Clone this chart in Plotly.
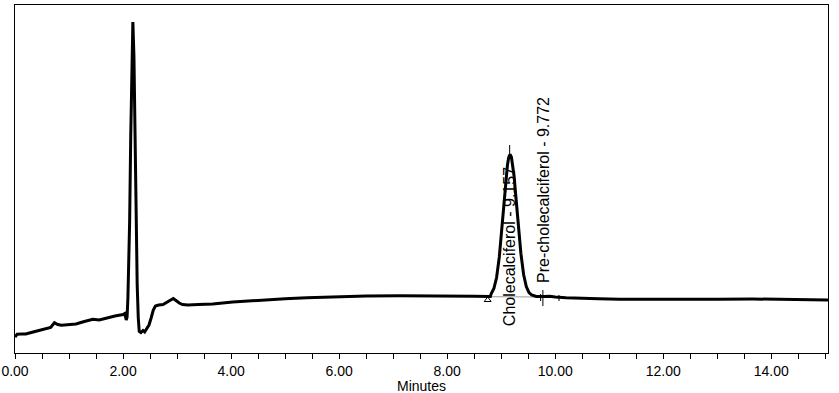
import plotly.graph_objects as go

# Chromatogram trace (time in minutes, detector response in arbitrary units)
time_min = [0.00, 0.04, 0.12, 0.20, 0.30, 0.45, 0.60, 0.66, 0.73, 0.79, 0.86, 1.00,
            1.13, 1.25, 1.38, 1.44, 1.56, 1.70, 1.85, 2.00, 2.03, 2.06, 2.075, 2.09,
            2.102, 2.122, 2.142, 2.162, 2.182, 2.202, 2.222, 2.242, 2.262, 2.282, 2.30,
            2.33, 2.37, 2.40, 2.44, 2.48, 2.52, 2.56, 2.60, 2.66, 2.74, 2.82, 2.88,
            2.93, 2.98, 3.04, 3.10, 3.20, 3.40, 3.66, 4.03, 4.30, 4.65, 5.00, 5.40,
            5.89, 6.50, 7.12, 7.49, 8.00, 8.50, 8.80, 8.815, 8.865, 8.915, 8.965,
            9.015, 9.04, 9.065, 9.09, 9.115, 9.14, 9.165, 9.19, 9.215, 9.24, 9.265,
            9.29, 9.315, 9.34, 9.365, 9.415, 9.465, 9.515, 9.565, 9.65, 9.72, 9.80,
            9.90, 10.00, 10.20, 10.40, 10.80, 11.20, 11.80, 12.40, 13.00, 13.66,
            14.30, 15.06]
response = [16.0, 18.7, 19.0, 19.0, 20.5, 22.5, 24.0, 25.5, 30.3, 28.5, 27.7, 28.0,
            29.0, 31.0, 33.0, 33.7, 33.0, 35.0, 37.0, 38.5, 39.5, 33.0, 36.0, 55.0,
            75.0, 131.0, 215.0, 296.0, 331.0, 296.0, 215.0, 131.0, 68.0, 35.0, 21.5,
            20.5, 22.5, 21.0, 24.0, 28.0, 35.0, 43.0, 47.0, 48.0, 48.5, 51.0, 53.5,
            54.5, 52.5, 50.0, 48.5, 48.0, 48.5, 49.0, 51.0, 52.0, 53.0, 54.2, 55.3,
            56.3, 57.0, 57.3, 57.3, 57.0, 56.8, 56.5, 59.3, 64.5, 75.5, 96.0,
            125.5, 142.5, 159.5, 175.0, 187.5, 195.7, 198.5, 195.7, 187.5, 176.5, 160.5,
            144.5, 128.5, 113.0, 99.5, 78.5, 66.5, 60.5, 58.0, 56.5, 56.3, 56.5,
            56.8, 56.0, 55.2, 54.7, 54.2, 53.7, 53.5, 53.7, 53.8, 54.0,
            53.5, 53.0]

# Integration baseline under the vitamin D peak
baseline_t = [8.75, 9.75]
baseline_y = [56.3, 56.0]

# Peak start marker (triangle)
start_t = [8.75]
start_y = [53.0]

# Vertical event / retention-time marks
mark_t = [9.157, 9.73, 9.772, 10.07]
mark_lo = [198.0, 52.0, 47.0, 52.0]
mark_hi = [208.0, 59.0, 63.0, 58.0]

# Peak labels
peak_names = ["Cholecalciferol - 9.157", "Pre-cholecalciferol - 9.772"]
peak_label_t = [9.157, 9.772]
peak_label_y = [25.0, 68.0]

x_tick_vals = [0, 2, 4, 6, 8, 10, 12, 14]
x_tick_text = ["0.00", "2.00", "4.00", "6.00", "8.00", "10.00", "12.00", "14.00"]
x_title = "Minutes"

AX_FONT = "Liberation Sans Narrow, Liberation Sans, Arial, sans-serif"

fig = go.Figure()

fig.add_trace(go.Scatter(
    x=baseline_t, y=baseline_y, mode="lines",
    line=dict(color="#9a9a9a", width=1), hoverinfo="skip", showlegend=False))

fig.add_trace(go.Scatter(
    x=time_min, y=response, mode="lines",
    line=dict(color="black", width=3), showlegend=False))

mx, my = [], []
for t, lo, hi in zip(mark_t, mark_lo, mark_hi):
    mx += [t, t, None]
    my += [lo, hi, None]
fig.add_trace(go.Scatter(
    x=mx, y=my, mode="lines", line=dict(color="black", width=1),
    hoverinfo="skip", showlegend=False))

fig.add_trace(go.Scatter(
    x=start_t, y=start_y, mode="markers",
    marker=dict(symbol="triangle-up-open", size=6, color="black", line=dict(width=1)),
    hoverinfo="skip", showlegend=False))

for name, t, y in zip(peak_names, peak_label_t, peak_label_y):
    fig.add_annotation(
        x=t, y=y, text=name, showarrow=False, textangle=-90,
        xanchor="center", yanchor="bottom",
        font=dict(family="Liberation Sans, Arial, sans-serif", size=16, color="black"))

fig.add_annotation(
    x=0.5, y=-0.095, xref="paper", yref="paper", text=x_title, showarrow=False,
    xanchor="center", yanchor="middle",
    font=dict(family=AX_FONT, size=14, color="black"))

fig.update_layout(
    width=839, height=393,
    margin=dict(l=15, r=11, t=5, b=40, autoexpand=False),
    paper_bgcolor="white", plot_bgcolor="white",
    font=dict(family=AX_FONT, size=14, color="black"),
)
fig.update_xaxes(
    range=[0, 15.05], showgrid=False, zeroline=False, automargin=False,
    showline=True, mirror=True, linecolor="black", linewidth=1,
    tickmode="array", tickvals=x_tick_vals, ticktext=x_tick_text,
    ticks="outside", ticklen=5, tickwidth=1, tickcolor="black",
    minor=dict(dtick=0.5, tick0=0, ticks="outside", ticklen=5, tickwidth=1,
               tickcolor="black", showgrid=False),
)
fig.update_yaxes(
    range=[0, 348], showgrid=False, zeroline=False, automargin=False,
    showline=True, mirror=True, linecolor="black", linewidth=1,
    showticklabels=False, ticks="",
)

fig.write_html(
    "out.html",
    config={"displayModeBar": False},
    post_script="document.body.style.margin='0px';document.body.style.overflow='hidden';",
)
